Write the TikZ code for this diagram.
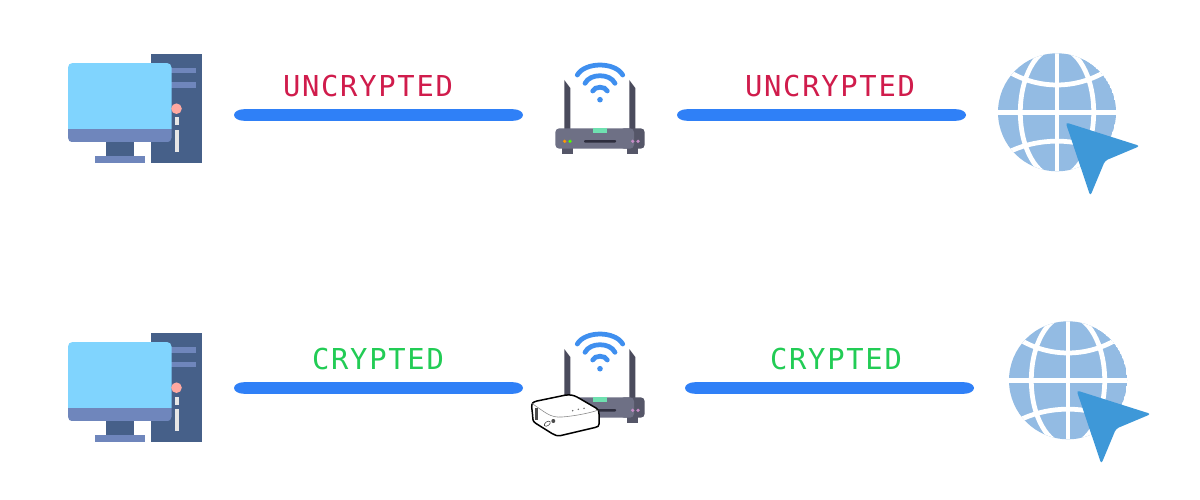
\documentclass[tikz,border=0pt]{standalone}
\usepackage{fontspec}
\newfontfamily\labfont[LetterSpace=6.0]{DejaVu Sans Mono}
\definecolor{bar}{HTML}{2F80F7}
\definecolor{uncr}{HTML}{D01C4C}
\definecolor{cryp}{HTML}{22CC55}
\definecolor{tower}{HTML}{466089}
\definecolor{screen}{HTML}{80D4FE}
\definecolor{bezel}{HTML}{6F86BC}
\definecolor{btn}{HTML}{FFA9A1}
\definecolor{ind}{HTML}{E6E6E6}
\definecolor{rfront}{HTML}{6E7085}
\definecolor{rside}{HTML}{555668}
\definecolor{rant}{HTML}{4A4B5C}
\definecolor{rtab}{HTML}{6FE0B0}
\definecolor{rslot}{HTML}{2E2E3E}
\definecolor{wifi}{HTML}{3F8FEF}
\definecolor{globe}{HTML}{93BBE3}
\definecolor{cursor}{HTML}{3E98D8}
\newcommand{\barlink}[2]{%
  \draw[link] (#1) -- (#2);
  \fill[bar] (#1) ellipse [x radius=10,y radius=5.8];
  \fill[bar] (#2) ellipse [x radius=10,y radius=5.8];}
\tikzset{
  link/.style={draw=bar,line width=0.232cm},
  lab/.style={font=\labfont\fontsize{16.4}{20}\selectfont,anchor=base,inner sep=0pt},
  wifiarc/.style={draw=wifi,line width=0.095cm,line cap=round},
  gridline/.style={draw=white,line width=0.095cm},
  pics/pcicon/.style={code={
    \fill[tower] (150.7,54) rectangle (202,163.4);
    \fill[bezel] (171,68) rectangle (196,73.5);
    \fill[bezel] (171,82.5) rectangle (196,88);
    \fill[tower] (106,140) rectangle (133.5,156);
    \fill[bezel] (95,156) rectangle (144.5,163.4);
    \begin{scope}
      \clip[rounded corners=0.09cm] (68,63) rectangle (171.5,142.3);
      \fill[screen] (68,63) rectangle (171.5,129.3);
      \fill[bezel] (68,129.3) rectangle (171.5,142.3);
    \end{scope}
    \fill[btn] (176.5,108.7) circle [radius=5.3];
    \fill[ind] (174.5,117.5) rectangle (178.7,125.5);
    \fill[ind] (174.5,130) rectangle (178.7,152);
  }},
  pics/routericon/.style={code={
    \fill[rant] (564.3,80) -- (570.3,88) -- (570.3,130) -- (564.3,130) -- cycle;
    \fill[rant] (629.3,80) -- (635.3,88) -- (635.3,130) -- (629.3,130) -- cycle;
    \fill[rside] (562,147) rectangle (573,154);
    \fill[rside] (627.3,147) rectangle (638.3,154);
    \fill[rside,rounded corners=0.08cm] (620,128.3) rectangle (644.7,148.7);
    \fill[rfront,rounded corners=0.08cm] (555.3,128.3) rectangle (634,148.7);
    \fill[rtab] (593.3,128.3) rectangle (606.7,133.3);
    \fill[rslot,rounded corners=0.02cm] (584,140) rectangle (616,142.7);
    \fill[orange!80!yellow] (564.7,141.3) circle [radius=1.8];
    \fill[green!70!yellow] (570,141.3) circle [radius=1.8];
    \fill[violet!45!white] (632.7,141.3) circle [radius=1.8];
    \fill[violet!45!white] (638,141.3) circle [radius=1.8];
    \fill[wifi] (600,99.7) circle [radius=2.8];
    \draw[wifiarc] (577.3,75) .. controls (585,61.7) and (615,61.7) .. (622.7,75);
    \draw[wifiarc] (585,83.3) .. controls (590,73.2) and (610,73.2) .. (615,83.3);
    \draw[wifiarc] (592.7,91) .. controls (595,86) and (605,86) .. (607.3,91);
  }},
  pics/globeicon/.style={code={
    \begin{scope}
      \clip (1057,112.3) circle [radius=59];
      \fill[globe] (1057,112.3) circle [radius=59];
      \draw[gridline] (1057,50) -- (1057,175);
      \draw[gridline] (995,112.3) -- (1119,112.3);
      \draw[gridline] (1057,112.3) ellipse [x radius=36.7,y radius=65];
      \draw[gridline] (1004,70.5) -- (1011.7,73.3) .. controls (1040,88.9) and (1074,88.9) .. (1102.3,73.3) -- (1110,70.5);
      \draw[gridline] (1004,153) -- (1011.7,150.6) .. controls (1040,138) and (1074,138) .. (1102.3,150.6) -- (1110,153);
    \end{scope}
  }},
  pics/cursoricon/.style={code={
    \fill[cursor,rounded corners=0.06cm] (1065.6,122.4) -- (1140,146) -- (1105,160.7) -- (1090.3,196) -- cycle;
  }},
}
\begin{document}
\begin{tikzpicture}[x=0.02cm,y=-0.02cm]
\useasboundingbox (0,0) rectangle (1200,500);
\fill[white] (0,0) rectangle (1200,500);

\pic (pcA) at (0,0) {pcicon};
\pic (routerA) at (0,0) {routericon};
\pic (globeA) at (0,0) {globeicon};
\pic (cursorA) at (0,0) {cursoricon};
\pic (pcB) at (0,279) {pcicon};
\pic (routerB) at (0,269) {routericon};
\pic (globeB) at (11,268) {globeicon};
\pic (cursorB) at (11,268) {cursoricon};

% travel router
\draw[black,fill=white,line width=0.03cm,line join=round]
  (531.7,407) .. controls (531.7,403) and (533,402) .. (537,401)
  -- (565,395.2) .. controls (570,394.5) and (573,395) .. (577,397)
  -- (596,408) .. controls (598.5,409.5) and (599,411) .. (599,414)
  -- (599,424) .. controls (599,426) and (598,427) .. (595,427.5)
  -- (561,435.5) .. controls (557,436) and (555,435.5) .. (552,433.5)
  -- (536,423.5) .. controls (533,421.5) and (532.7,420) .. (532.7,416) -- cycle;
\draw[black!45,line width=0.012cm] (532,403.5) .. controls (545,412) and (550,418) .. (562,417) .. controls (575,416) and (590,413) .. (598.5,410);
\fill[black!70] (535,408) rectangle (538.3,420);
\fill[black!60] (572.7,410.7) circle [radius=0.8];
\fill[black!60] (578.3,409.3) circle [radius=0.8];
\fill[black!60] (584,408.3) circle [radius=0.8];
\fill[black!70] (553.3,421) circle [radius=2];
\draw[black!70,line width=0.012cm,rotate around={35:(547.3,423.7)}] (547.3,423.7) ellipse [x radius=3.4,y radius=2];

\coordinate (a1) at (244,115); \coordinate (a2) at (513,115);
\coordinate (b1) at (687,115); \coordinate (b2) at (956,115);
\coordinate (c1) at (244,388); \coordinate (c2) at (513,388);
\coordinate (d1) at (695,388); \coordinate (d2) at (964,388);
\barlink{a1}{a2}
\barlink{b1}{b2}
\barlink{c1}{c2}
\barlink{d1}{d2}

\node[lab,text=uncr] (t1) at (368,96.7) {UNCRYPTED};
\node[lab,text=uncr] (t2) at (830,96.7) {UNCRYPTED};
\node[lab,text=cryp] (t3) at (378,369) {CRYPTED};
\node[lab,text=cryp] (t4) at (836,369) {CRYPTED};
\end{tikzpicture}
\end{document}
